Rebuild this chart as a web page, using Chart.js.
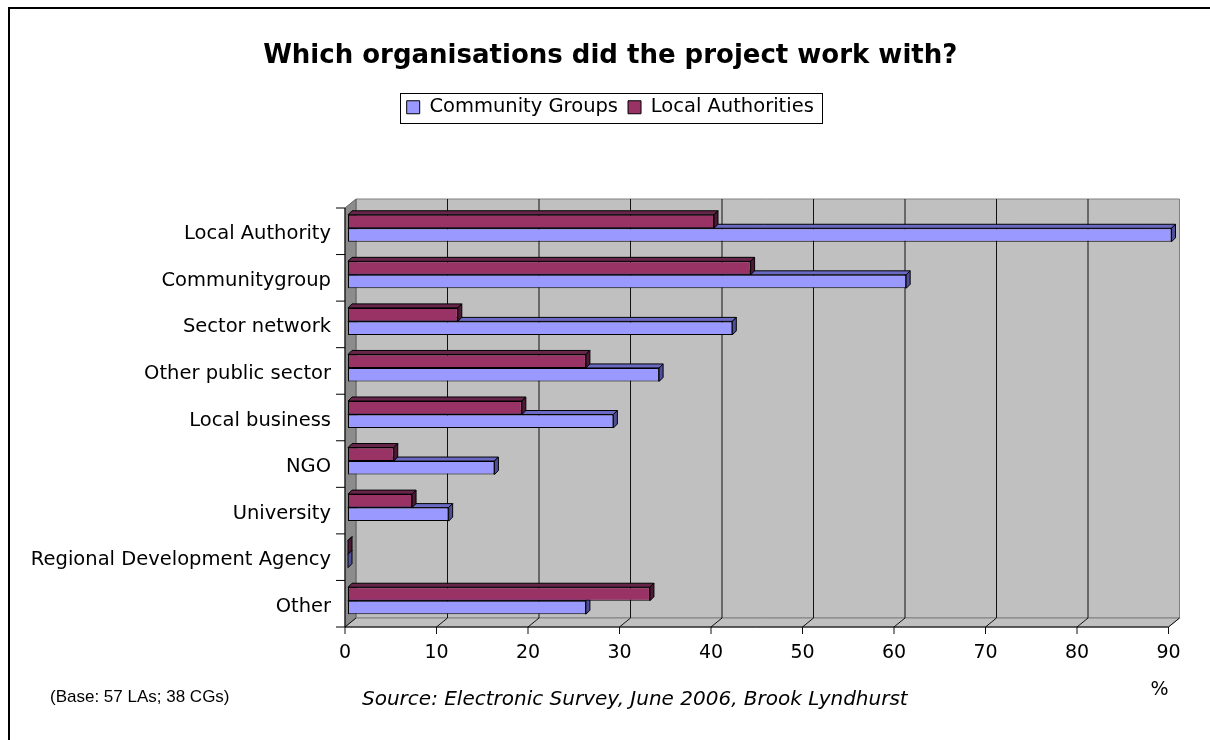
<!DOCTYPE html>
<html>
<head>
<meta charset="utf-8">
<script src="https://cdn.jsdelivr.net/npm/chart.js@4.4.0/dist/chart.umd.min.js"></script>
<style>
    html, body { margin: 0; padding: 0; background: #fff; }
</style>
</head>
<body>
<canvas id="myChart" width="1210" height="740"></canvas>
<script>
var ctx = document.getElementById('myChart').getContext('2d');

var data_categories = ['Local Authority', 'Communitygroup', 'Sector network', 'Other public sector',
    'Local business', 'NGO', 'University', 'Regional Development Agency', 'Other'];
var data_la = [40, 44, 12, 26, 19, 5, 7, 0, 33];
var data_cg = [90, 61, 42, 34, 29, 16, 11, 0, 26];
var axis_max = 90;
var axis_step = 10;

var chart_title = 'Which organisations did the project work with?';
var note_base = '(Base: 57 LAs; 38 CGs)';
var note_source = 'Source: Electronic Survey, June 2006, Brook Lyndhurst';

var font_name = '"DejaVu Sans", Verdana, sans-serif';

// depth of the 3d box, how far bars sit behind the front edge, bar thickness
var depth = { x: 11, y: -9 };
var bar_shift = { x: 3, y: -3 };
var bar_depth = { x: 4, y: -4 };

// darker faces for each dataset (same order as datasets)
var face_colours = [
    { top: '#68254a', end: '#4d1a36' },
    { top: '#6a6ac4', end: '#4f4f99' }
];

var shape = function (c, pts, fill, line) {
    c.beginPath();
    c.moveTo(pts[0][0], pts[0][1]);
    for (var i = 1; i < pts.length; i++) {
        c.lineTo(pts[i][0], pts[i][1]);
    }
    c.closePath();
    if (fill) { c.fillStyle = fill; c.fill(); }
    if (line) { c.strokeStyle = line; c.stroke(); }
};

var box3d = {
    id: 'box3d',
    beforeInit: function (chart) {
        // extra room between the legend and the plot
        var fit = chart.legend.fit;
        chart.legend.fit = function () {
            fit.call(this);
            this.height += 81;
        };
    },
    afterLayout: function (chart) {
        // title and legend sit a little right of the padded width's centre
        [chart.titleBlock, chart.legend].forEach(function (b) {
            b.left += 26;
            b.right += 26;
        });
    },
    beforeDatasetsDraw: function (chart) {
        var c = chart.ctx, a = chart.chartArea;
        var sx = chart.scales.x, sy = chart.scales.y;
        var dx = depth.x, dy = depth.y;

        c.save();
        c.lineWidth = 1;
        // back wall, side wall, floor
        shape(c, [[a.left + dx, a.top + dy], [a.right + dx, a.top + dy],
            [a.right + dx, a.bottom + dy], [a.left + dx, a.bottom + dy]], '#c0c0c0', '#808080');
        shape(c, [[a.left, a.top], [a.left + dx, a.top + dy],
            [a.left + dx, a.bottom + dy], [a.left, a.bottom]], '#8c8c8c', '#606060');
        shape(c, [[a.left, a.bottom], [a.left + dx, a.bottom + dy],
            [a.right + dx, a.bottom + dy], [a.right, a.bottom]], '#c0c0c0', '#808080');

        // grid lines on the wall and floor, tick marks under the axis
        c.strokeStyle = '#111';
        c.beginPath();
        sx.ticks.forEach(function (t) {
            var x = sx.getPixelForValue(t.value);
            if (t.value > 0 && t.value < axis_max) {
                c.moveTo(x + dx, a.top + dy);
                c.lineTo(x + dx, a.bottom + dy);
            }
            c.moveTo(x, a.bottom + 7);
            c.lineTo(x, a.bottom);
            c.lineTo(x + dx, a.bottom + dy);
        });
        c.stroke();

        // axis lines and category ticks
        c.strokeStyle = '#000';
        c.beginPath();
        c.moveTo(a.left, a.top);
        c.lineTo(a.left, a.bottom);
        c.lineTo(a.right, a.bottom);
        for (var i = 0; i <= data_categories.length; i++) {
            var y = sy.getPixelForValue(i - 0.5);
            c.moveTo(a.left - 9, y);
            c.lineTo(a.left, y);
        }
        c.stroke();
        c.restore();

        // bars sit a bit behind the front edge
        c.save();
        c.translate(bar_shift.x, bar_shift.y);
    },
    beforeDatasetDraw: function (chart, args) {
        var c = chart.ctx, col = face_colours[args.index];
        var bx = bar_depth.x, by = bar_depth.y;
        c.save();
        c.lineWidth = 1;
        args.meta.data.forEach(function (bar) {
            var p = bar.getProps(['x', 'y', 'base', 'height'], true);
            var t = p.y - p.height / 2, b = p.y + p.height / 2;
            shape(c, [[p.base, t], [p.base + bx, t + by], [p.x + bx, t + by], [p.x, t]], col.top, '#000');
            shape(c, [[p.x, t], [p.x + bx, t + by], [p.x + bx, b + by], [p.x, b]], col.end, '#000');
        });
        c.restore();
    },
    afterDatasetsDraw: function (chart) {
        chart.ctx.restore();
    },
    afterDraw: function (chart) {
        var c = chart.ctx;
        c.save();

        // box round the legend
        var hb = chart.legend.legendHitBoxes;
        var l = Math.min.apply(null, hb.map(function (h) { return h.left; }));
        var r = Math.max.apply(null, hb.map(function (h) { return h.left + h.width; }));
        c.strokeStyle = '#000';
        c.lineWidth = 1;
        c.strokeRect(Math.round(l - 7) + 0.5, Math.round(hb[0].top - 5) + 0.5,
            Math.round(r - l + 15), Math.round(hb[0].height + 10));

        // footnotes
        c.fillStyle = '#000';
        c.textBaseline = 'middle';
        c.textAlign = 'left';
        c.font = '17px "Liberation Sans", Arial, sans-serif';
        c.fillText(note_base, 50, 697);
        c.font = 'italic 20px ' + font_name;
        c.fillText(note_source, 362, 700);

        // outer frame
        c.fillRect(8, 7, 2, 733);
        c.fillRect(8, 7, 1202, 2);
        c.restore();
    }
};

var myChart = new Chart(ctx, {
    type: 'bar',
    data: {
        labels: data_categories,
        datasets: [
            {
                label: 'Local Authorities',
                data: data_la,
                backgroundColor: '#993366',
                borderColor: '#000',
                borderWidth: 1,
                borderSkipped: false,
                clip: false
            },
            {
                label: 'Community Groups',
                data: data_cg,
                backgroundColor: '#9999ff',
                borderColor: '#000',
                borderWidth: 1,
                borderSkipped: false,
                clip: false
            }
        ]
    },
    options: {
        indexAxis: 'y',
        responsive: false,
        animation: false,
        devicePixelRatio: 1,
        layout: { padding: { top: 0, right: 41.5, bottom: 0, left: 0 } },
        datasets: {
            bar: { barPercentage: 1, categoryPercentage: 0.58 }
        },
        plugins: {
            title: {
                display: true,
                text: chart_title,
                color: '#000',
                font: { family: font_name, size: 26, weight: 'bold' },
                padding: { top: 40.4, bottom: 15.9 }
            },
            legend: {
                reverse: true,
                labels: {
                    color: '#000',
                    font: { family: font_name, size: 19.5 },
                    boxWidth: 13,
                    boxHeight: 13,
                    padding: 10
                }
            },
            tooltip: { enabled: false }
        },
        scales: {
            x: {
                min: 0,
                max: axis_max,
                grid: { display: false, drawTicks: false },
                border: { display: false },
                ticks: {
                    stepSize: axis_step,
                    color: '#000',
                    padding: 14.5,
                    font: { family: font_name, size: 19 }
                },
                title: {
                    display: true,
                    text: '%',
                    align: 'end',
                    color: '#000',
                    font: { family: font_name, size: 19 },
                    padding: { top: 0, bottom: 38.6 }
                },
                afterFit: function (scale) { scale.height = 113; }
            },
            y: {
                grid: { display: false, drawTicks: false },
                border: { display: false },
                ticks: {
                    color: '#000',
                    padding: 14,
                    labelOffset: 3,
                    font: { family: font_name, size: 19.5 }
                },
                afterFit: function (scale) { scale.width = 345; }
            }
        }
    },
    plugins: [box3d]
});
</script>
</body>
</html>
